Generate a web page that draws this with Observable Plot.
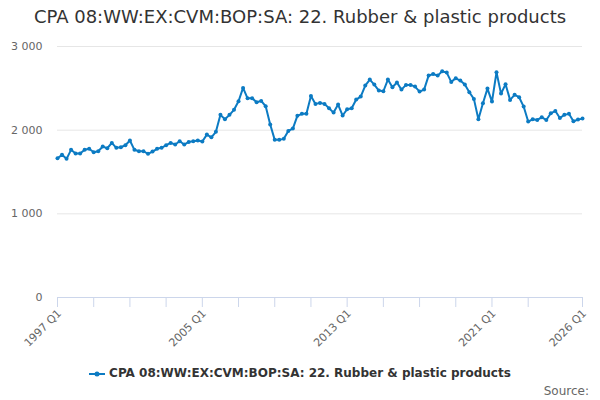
<!DOCTYPE html>
<html>
<head>
<meta charset="utf-8">
<script src="https://cdn.jsdelivr.net/npm/d3@7"></script>
<script src="https://cdn.jsdelivr.net/npm/@observablehq/plot@0.6"></script>
<style>
  body { margin: 0; background: #fff; font-family: "DejaVu Sans", sans-serif; }
  #wrap { position: relative; width: 600px; height: 400px; overflow: hidden; }
  #title { position: absolute; left: 0; top: 6px; width: 600px; text-align: center; font-size: 18px; color: #333; white-space: nowrap; }
  #legend { position: absolute; left: 0; top: 366px; width: 600px; text-align: center; font-size: 12px; font-weight: bold; color: #333; white-space: nowrap; }
  #legend svg { vertical-align: middle; margin-right: 4px; }
  #source { position: absolute; right: 11px; top: 384px; font-size: 12px; color: #666; }
  #chart { position: absolute; left: 0; top: 0; }
</style>
</head>
<body>
<div id="wrap">
  <div id="chart"></div>
  <div id="title"></div>
  <div id="legend"></div>
  <div id="source">Source:</div>
</div>
<script>
const seriesName = "CPA 08:WW:EX:CVM:BOP:SA: 22. Rubber & plastic products";
const startYear = 1997;
const values = [
  1665, 1705, 1657, 1765, 1720, 1720, 1765, 1777, 1736, 1748,
  1804, 1784, 1848, 1789, 1796, 1820, 1876, 1765, 1748, 1748,
  1717, 1744, 1777, 1789, 1820, 1848, 1828, 1868, 1828, 1860,
  1868, 1876, 1864, 1947, 1915, 1980, 2183, 2130, 2183, 2243,
  2345, 2505, 2381, 2381, 2334, 2350, 2286, 2067, 1884, 1884,
  1896, 1991, 2019, 2171, 2195, 2195, 2409, 2314, 2326, 2314,
  2262, 2210, 2306, 2175, 2250, 2262, 2366, 2401, 2533, 2605,
  2545, 2473, 2465, 2605, 2513, 2569, 2485, 2541, 2541, 2521,
  2461, 2485, 2652, 2672, 2652, 2704, 2688, 2577, 2620, 2593,
  2545, 2453, 2374, 2130, 2322, 2497, 2342, 2692, 2437, 2549,
  2362, 2422, 2394, 2282, 2103, 2130, 2122, 2154, 2122, 2202,
  2230, 2146, 2183, 2195, 2106, 2126, 2138
];
const quarters = values.map((_, i) => `${startYear + Math.floor(i / 4)} Q${(i % 4) + 1}`);
const tickQuarters = ["1997 Q1","1999 Q1","2001 Q1","2003 Q1","2005 Q1","2007 Q1","2009 Q1","2011 Q1","2013 Q1","2015 Q1","2017 Q1","2019 Q1","2021 Q1","2023 Q1","2026 Q1"];
const tickLabels = ["1997 Q1","2005 Q1","2013 Q1","2021 Q1","2026 Q1"];
const yTicks = [0, 1000, 2000, 3000];

const color = "#0c7bc3";
const rows = values.map((v, i) => ({i, q: quarters[i], v}));
const tickIdx = tickQuarters.map(q => quarters.indexOf(q));
const fmtY = d => d3.format(",")(d).replace(/,/g, " ");

const chart = Plot.plot({
  width: 600,
  height: 400,
  marginTop: 46,
  marginBottom: 103,
  marginLeft: 57,
  marginRight: 18,
  style: {fontFamily: "DejaVu Sans", fontSize: "11px", color: "#666", background: "transparent"},
  x: {type: "linear", domain: [0, values.length - 1]},
  y: {domain: [0, 3000]},
  marks: [
    Plot.gridY(yTicks.filter(d => d > 0), {stroke: "#e6e6e6", strokeOpacity: 1}),
    Plot.axisY(yTicks, {tickSize: 0, tickPadding: 15, tickFormat: fmtY, fill: "#666", label: null}),
    Plot.ruleY([0], {stroke: "#ccd6eb"}),
    Plot.axisX(tickIdx, {
      tickSize: 10, stroke: "#ccd6eb", strokeOpacity: 1, label: null,
      text: null
    }),
    Plot.axisX(tickIdx.filter(d => tickLabels.includes(quarters[d])), {
      tickSize: 0, tickPadding: 14, tickRotate: -45, fill: "#666", label: null, dx: 2,
      tickFormat: d => quarters[d]
    }),
    Plot.line(rows, {x: "i", y: "v", stroke: color, strokeWidth: 2}),
    Plot.dot(rows, {x: "i", y: "v", r: 2, fill: color, stroke: "none"})
  ]
});
document.getElementById("chart").appendChild(chart);
document.getElementById("title").textContent = seriesName;
document.getElementById("legend").innerHTML =
  `<svg width="16" height="10"><line x1="0" x2="16" y1="5" y2="5" stroke="${color}" stroke-width="2"/><circle cx="8" cy="5" r="2.5" fill="${color}"/></svg>`;
document.getElementById("legend").appendChild(document.createTextNode(seriesName));
</script>
</body>
</html>
